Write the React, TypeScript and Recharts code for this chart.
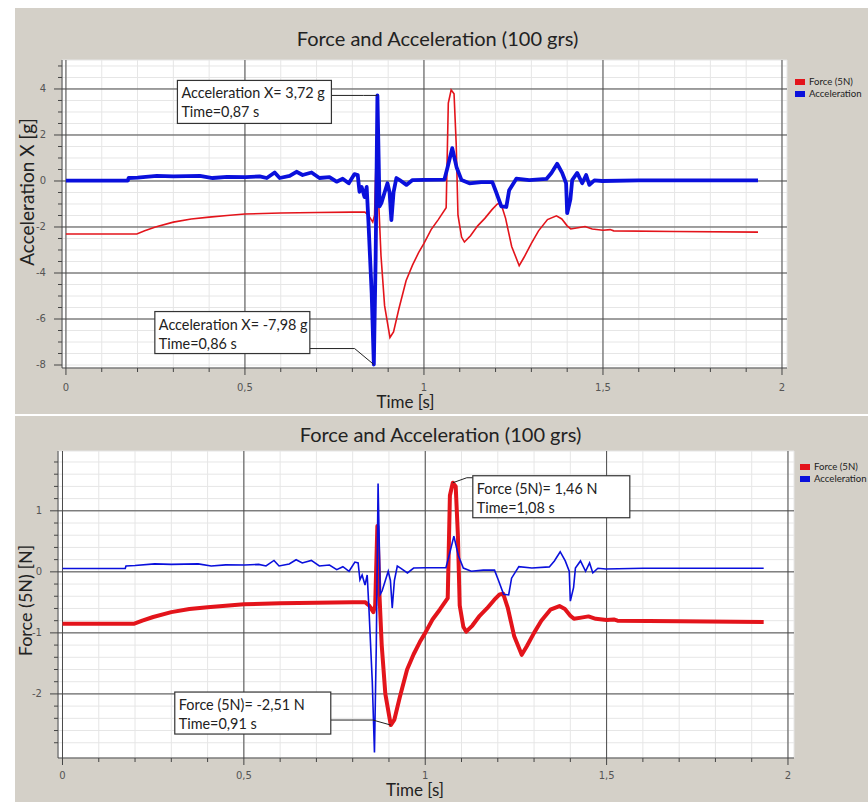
import React from 'react';
import {
  LineChart,
  Line,
  XAxis,
  YAxis,
  CartesianGrid,
  ReferenceLine,
  ReferenceDot,
  Legend,
} from 'recharts';

// Acceleration X [g] over time [s]
const accTime = [
  0, 0.173, 0.175, 0.2, 0.254, 0.3, 0.374, 0.41, 0.45, 0.502, 0.541, 0.561, 0.583, 0.597, 0.625, 0.644,
  0.661, 0.686, 0.708, 0.736, 0.756, 0.773, 0.79, 0.806, 0.815, 0.82, 0.826, 0.834, 0.84, 0.845, 0.854,
  0.86, 0.865, 0.87, 0.876, 0.881, 0.89, 0.898, 0.904, 0.909, 0.915, 0.923, 0.932, 0.951, 0.968, 1.0,
  1.057, 1.066, 1.079, 1.091, 1.105, 1.127, 1.16, 1.191, 1.202, 1.216, 1.23, 1.238, 1.258, 1.294, 1.342,
  1.356, 1.372, 1.386, 1.397, 1.4, 1.409, 1.414, 1.428, 1.442, 1.453, 1.462, 1.476, 1.498, 1.6, 1.7, 1.933,
];
const accValues = [
  0.02, 0.02, 0.13, 0.15, 0.22, 0.2, 0.22, 0.13, 0.18, 0.17, 0.2, 0.13, 0.37, 0.13, 0.22, 0.4,
  0.26, 0.37, 0.13, 0.17, -0.03, 0.1, -0.1, 0.3, 0.26, -0.47, -0.26, -0.7, -0.26, -1.8, -4.9,
  -7.98, -3.4, 3.72, -1.1, -0.96, -0.5, -0.1, -0.5, -1.7, -0.5, 0.13, 0.04, -0.17, 0.04, 0.05,
  0.06, 0.6, 1.43, 0.6, 0.04, -0.1, -0.05, -0.05, -0.5, -1.1, -1.13, -0.4, 0.1, 0.04, 0.09,
  0.35, 0.75, 0.35, -0.1, -1.4, -0.8, 0.04, 0.35, -0.1, 0.26, -0.17, 0.03, 0.0, 0.03, 0.03, 0.03,
];

// Force (5N) [N] over time [s]
const forceTime = [
  0, 0.198, 0.22, 0.25, 0.3, 0.35, 0.4, 0.45, 0.5, 0.6, 0.7, 0.8, 0.835, 0.845, 0.857, 0.862, 0.868,
  0.874, 0.88, 0.89, 0.905, 0.915, 0.93, 0.95, 0.968, 0.985, 1.0, 1.02, 1.04, 1.062, 1.068, 1.076,
  1.084, 1.09, 1.095, 1.105, 1.113, 1.13, 1.15, 1.17, 1.19, 1.205, 1.215, 1.228, 1.245, 1.266, 1.28,
  1.3, 1.32, 1.345, 1.37, 1.385, 1.4, 1.41, 1.43, 1.45, 1.47, 1.5, 1.52, 1.53, 1.7, 1.933,
];
const forceValues = [
  -0.85, -0.85, -0.8, -0.74, -0.66, -0.61, -0.58, -0.555, -0.53, -0.515, -0.505, -0.5, -0.5, -0.55, -0.66, -0.55, 0.75,
  -0.4, -1.2, -2.0, -2.51, -2.42, -2.05, -1.6, -1.35, -1.15, -1.0, -0.78, -0.62, -0.43, 1.25, 1.46,
  1.4, 0.6, -0.55, -0.9, -0.98, -0.88, -0.72, -0.6, -0.46, -0.37, -0.36, -0.6, -1.05, -1.36, -1.22,
  -1.0, -0.8, -0.62, -0.56, -0.61, -0.72, -0.77, -0.75, -0.73, -0.77, -0.79, -0.78, -0.8, -0.81, -0.82,
];

const timeTicks = [
  0, 0.1, 0.2, 0.3, 0.4, 0.5, 0.6, 0.7, 0.8, 0.9, 1, 1.1, 1.2, 1.3, 1.4, 1.5, 1.6, 1.7, 1.8, 1.9, 2,
];
const timeMajor = [0, 0.5, 1, 1.5, 2];
const accTicks = [
  -8, -7.5, -7, -6.5, -6, -5.5, -5, -4.5, -4, -3.5, -3, -2.5, -2, -1.5, -1, -0.5, 0, 0.5, 1, 1.5, 2, 2.5,
  3, 3.5, 4, 4.5, 5,
];
const accMajor = [-6, -4, -2, 0, 2, 4];
const forceTicks = [
  -2.8, -2.6, -2.4, -2.2, -2, -1.8, -1.6, -1.4, -1.2, -1, -0.8, -0.6, -0.4, -0.2, 0, 0.2, 0.4, 0.6, 0.8, 1,
  1.2, 1.4, 1.6, 1.8,
];
const forceMajor = [-2, -1, 0, 1];

const accData = accTime.map((t, i) => ({ t, acc: accValues[i] }));
const forceData = forceTime.map((t, i) => ({ t, force: forceValues[i] }));

const RED = '#e3141b';
const BLUE = '#0a10dc';
const PANEL = '#d4d0c8';
const MAJOR = '#4a4a4a';
const MINOR = '#e6e6e6';
const UI_FONT = 'Lato, "Open Sans", sans-serif';
const TICK_FONT = '"DejaVu Sans", sans-serif';

const fmt = (v: number) => String(v).replace('.', ',');

const makeTimeTick = (labelDy: number) => (props: any) => {
  const { x, y, payload } = props;
  const v = payload.value;
  const major = Math.round(v * 10) % 5 === 0;
  return (
    <g>
      <line x1={x} x2={x} y1={y} y2={y + (major ? 7 : 4)} stroke="#444" />
      {major && (
        <text x={x} y={y + labelDy} textAnchor="middle" dominantBaseline="middle" fontSize={10} fill="#555" fontFamily={TICK_FONT}>
          {fmt(v)}
        </text>
      )}
    </g>
  );
};

const makeValueTick = (isMajor: (v: number) => boolean, labelDx: number) => (props: any) => {
  const { x, y, payload } = props;
  const v = payload.value;
  const major = isMajor(v);
  return (
    <g>
      <line x1={x} x2={x - (major ? 8 : 4)} y1={y} y2={y} stroke="#444" />
      {major && (
        <text x={x - labelDx} y={y} textAnchor="end" dominantBaseline="middle" fontSize={10} fill="#555" fontFamily={TICK_FONT}>
          {fmt(v)}
        </text>
      )}
    </g>
  );
};

const AxisTitle = ({ viewBox, text, dx, dy, rotate, size }: any) => {
  const cx = viewBox.x + (rotate ? 0 : viewBox.width / 2) + dx;
  const cy = viewBox.y + (rotate ? viewBox.height / 2 : 0) + dy;
  return (
    <text
      x={cx}
      y={cy}
      textAnchor="middle"
      dominantBaseline="middle"
      fontSize={size || 17}
      fill="#222"
      fontFamily={UI_FONT}
      transform={rotate ? `rotate(-90 ${cx} ${cy})` : undefined}
    >
      {text}
    </text>
  );
};

// callout box with leader line to the marked point
const makeCallout = (lines: string[], dx: number, dy: number, w: number, h: number, leadY: number) => (props: any) => {
  const { cx, cy } = props;
  const bx = cx + dx;
  const by = cy + dy;
  const onLeft = dx < 0;
  const sx = onLeft ? bx + w : bx;
  const sy = by + leadY;
  const kx = onLeft ? sx + (cx - sx) * 0.7 : sx + (cx - sx) * 0.3;
  return (
    <g>
      <polyline points={`${sx},${sy} ${kx},${sy} ${cx},${cy}`} stroke="#222" fill="none" strokeWidth={1} />
      <rect x={bx} y={by} width={w} height={h} fill="#fff" stroke="#333" strokeWidth={1.2} />
      <text x={bx + 4} y={by + 18} fontSize={14.4} fill="#222" fontFamily={UI_FONT}>
        {lines[0]}
      </text>
      <text x={bx + 4} y={by + 37} fontSize={14.4} fill="#222" fontFamily={UI_FONT}>
        {lines[1]}
      </text>
    </g>
  );
};

const LegendBox = () => (
  <div style={{ fontFamily: UI_FONT, fontSize: 9.6, color: '#222', lineHeight: '12px' }}>
    {[
      { name: 'Force (5N)', color: RED },
      { name: 'Acceleration', color: BLUE },
    ].map((it) => (
      <div key={it.name} style={{ display: 'flex', alignItems: 'center', whiteSpace: 'nowrap' }}>
        <span style={{ display: 'inline-block', width: 10, height: 6, background: it.color, marginRight: 4 }} />
        {it.name}
      </div>
    ))}
  </div>
);

const titleStyle: React.CSSProperties = {
  position: 'absolute',
  left: 0,
  width: '100%',
  boxSizing: 'border-box',
  textAlign: 'center',
  fontFamily: UI_FONT,
  fontSize: 20,
  color: '#222',
};

export default function App() {
  return (
    <div style={{ position: 'fixed', left: 0, top: 0, width: 868, height: 802, background: '#fff', overflow: 'hidden' }}>
      {/* Top: acceleration axis */}
      <div style={{ position: 'absolute', left: 15, top: 8, width: 853, height: 406, background: PANEL }}>
        <div style={{ ...titleStyle, top: 18, paddingRight: 8 }}>Force and Acceleration (100 grs)</div>
        <LineChart width={853} height={406} margin={{ top: 52, right: 81, bottom: 16, left: 17 }}>
          <CartesianGrid stroke={MINOR} fill="#fff" yAxisId="acc" />
          <XAxis
            type="number"
            dataKey="t"
            domain={[-0.011, 2.014]}
            ticks={timeTicks}
            allowDataOverflow
            height={30}
            tickSize={0}
            tickMargin={0}
            axisLine={{ stroke: '#444' }}
            tickLine={false}
            tick={makeTimeTick(20)}
            interval={0}
            label={<AxisTitle text="Time [s]" dx={-19} dy={36} />}
          />
          <YAxis
            yAxisId="acc"
            domain={[-8.13, 5.26]}
            ticks={accTicks}
            allowDataOverflow
            width={30}
            tickSize={0}
            tickMargin={0}
            axisLine={{ stroke: '#444' }}
            tickLine={false}
            tick={makeValueTick((v) => v % 2 === 0, 16)}
            interval={0}
            label={<AxisTitle text="Acceleration X [g]" dx={-3} dy={-22} rotate size={19} />}
          />
          <YAxis yAxisId="force" domain={[-3.0, 1.94]} allowDataOverflow hide width={0} />
          {timeMajor.map((v) => (
            <ReferenceLine key={`tx${v}`} x={v} yAxisId="acc" stroke={MAJOR} />
          ))}
          {accMajor.map((v) => (
            <ReferenceLine key={`ty${v}`} y={v} yAxisId="acc" stroke={MAJOR} />
          ))}
          <Line
            data={forceData}
            dataKey="force"
            yAxisId="force"
            type="linear"
            stroke={RED}
            strokeWidth={1.6}
            dot={false}
            isAnimationActive={false}
          />
          <Line
            data={accData}
            dataKey="acc"
            yAxisId="acc"
            type="linear"
            stroke={BLUE}
            strokeWidth={3.8}
            strokeLinejoin="round"
            dot={false}
            isAnimationActive={false}
          />
          <ReferenceDot
            x={0.87}
            y={3.72}
            yAxisId="acc"
            r={2}
            shape={makeCallout(['Acceleration X= 3,72 g', 'Time=0,87 s'], -200, -15, 154, 43, 15)}
          />
          <ReferenceDot
            x={0.86}
            y={-7.98}
            yAxisId="acc"
            r={2}
            shape={makeCallout(['Acceleration X= -7,98 g', 'Time=0,86 s'], -219, -53, 155, 42, 37)}
          />
          <Legend
            layout="vertical"
            align="center"
            verticalAlign="middle"
            wrapperStyle={{ left: 780, top: 68, width: 73 }}
            content={() => <LegendBox />}
          />
        </LineChart>
      </div>

      {/* Bottom: force axis */}
      <div style={{ position: 'absolute', left: 15, top: 416, width: 853, height: 386, background: PANEL }}>
        <div style={{ ...titleStyle, top: 6, paddingRight: 2 }}>Force and Acceleration (100 grs)</div>
        <LineChart width={853} height={386} margin={{ top: 35, right: 74, bottom: 14, left: 13 }}>
          <CartesianGrid stroke={MINOR} fill="#fff" yAxisId="force" />
          <XAxis
            type="number"
            dataKey="t"
            domain={[-0.0124, 2.0166]}
            ticks={timeTicks}
            allowDataOverflow
            height={30}
            tickSize={0}
            tickMargin={0}
            axisLine={{ stroke: '#444' }}
            tickLine={false}
            tick={makeTimeTick(18)}
            interval={0}
            label={<AxisTitle text="Time [s]" dx={-11} dy={34} />}
          />
          <YAxis
            yAxisId="force"
            domain={[-3.05, 1.98]}
            ticks={forceTicks}
            allowDataOverflow
            width={30}
            tickSize={0}
            tickMargin={0}
            axisLine={{ stroke: '#444' }}
            tickLine={false}
            tick={makeValueTick((v) => Number.isInteger(v), 16)}
            interval={0}
            label={<AxisTitle text="Force (5N) [N]" dx={-1} dy={-4} rotate size={18} />}
          />
          <YAxis yAxisId="acc" domain={[-8.22, 5.13]} allowDataOverflow hide width={0} />
          {timeMajor.map((v) => (
            <ReferenceLine key={`bx${v}`} x={v} yAxisId="force" stroke={MAJOR} />
          ))}
          {forceMajor.map((v) => (
            <ReferenceLine key={`by${v}`} y={v} yAxisId="force" stroke={MAJOR} />
          ))}
          <Line
            data={forceData}
            dataKey="force"
            yAxisId="force"
            type="linear"
            stroke={RED}
            strokeWidth={4}
            strokeLinejoin="round"
            dot={false}
            isAnimationActive={false}
          />
          <Line
            data={accData}
            dataKey="acc"
            yAxisId="acc"
            type="linear"
            stroke={BLUE}
            strokeWidth={1.6}
            dot={false}
            isAnimationActive={false}
          />
          <ReferenceDot
            x={1.076}
            y={1.46}
            yAxisId="force"
            r={2}
            shape={makeCallout(['Force (5N)= 1,46 N', 'Time=1,08 s'], 20, -7, 157, 42, 2)}
          />
          <ReferenceDot
            x={0.905}
            y={-2.51}
            yAxisId="force"
            r={2}
            shape={makeCallout(['Force (5N)= -2,51 N', 'Time=0,91 s'], -216, -33, 156, 42, 28)}
          />
          <Legend
            layout="vertical"
            align="center"
            verticalAlign="middle"
            wrapperStyle={{ left: 785, top: 45, width: 72 }}
            content={() => <LegendBox />}
          />
        </LineChart>
      </div>
    </div>
  );
}
